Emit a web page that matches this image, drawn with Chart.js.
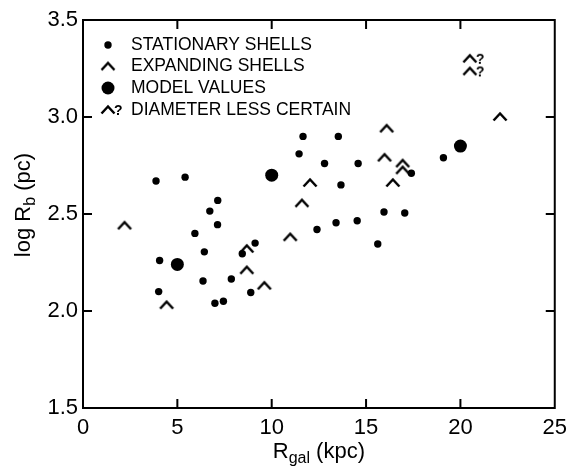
<!DOCTYPE html>
<html><head><meta charset="utf-8">
<script src="https://cdn.jsdelivr.net/npm/chart.js@4/dist/chart.umd.min.js"></script>
<style>html,body{margin:0;padding:0;background:#fff;}</style>
</head><body>
<canvas id="c" width="574" height="466"></canvas>
<script>
// ---- data ----
const stationaryX = [3.87, 5.41, 11.66, 11.45, 12.8, 13.53, 14.58, 13.67, 17.4, 19.1, 7.14, 6.72, 7.13, 5.93, 12.4, 9.12, 13.41, 14.53, 15.95, 17.05, 15.62, 6.43, 8.44, 4.06, 6.36, 7.86, 4.01, 8.89, 6.99, 7.44];
const stationaryY = [2.67, 2.69, 2.90, 2.81, 2.76, 2.90, 2.76, 2.65, 2.71, 2.79, 2.57, 2.515, 2.445, 2.40, 2.42, 2.35, 2.455, 2.465, 2.51, 2.505, 2.345, 2.305, 2.295, 2.26, 2.155, 2.165, 2.10, 2.095, 2.04, 2.05];
const expandingX = [2.2, 12.03, 11.6, 10.98, 8.68, 8.68, 9.61, 4.43, 22.1, 16.09, 15.98, 16.94, 16.94, 16.42];
const expandingY = [2.44, 2.66, 2.555, 2.38, 2.32, 2.21, 2.13, 2.03, 3.00, 2.94, 2.79, 2.76, 2.725, 2.66];
const uncertainX = [20.5, 20.5];
const uncertainY = [3.30, 3.235];
const modelX = [5, 10, 20];
const modelY = [2.24, 2.70, 2.85];
const xTicks = [0, 5, 10, 15, 20, 25];
const yTicks = [1.5, 2.0, 2.5, 3.0, 3.5];
const legendLabels = ['STATIONARY SHELLS', 'EXPANDING SHELLS', 'MODEL VALUES', 'DIAMETER LESS CERTAIN'];

const FONT = '"Liberation Sans", Arial, sans-serif';
Chart.defaults.color = '#000';

function caretCanvas(q) {
  const w = q ? 44 : 18, h = 20;
  const c = document.createElement('canvas'); c.width = w; c.height = h;
  const g = c.getContext('2d');
  g.strokeStyle = '#000'; g.lineWidth = 2.5; g.lineJoin = 'miter';
  const cx = w / 2, cy = h / 2;
  g.beginPath(); g.moveTo(cx - 6.5, cy + 3.5); g.lineTo(cx, cy - 3.5); g.lineTo(cx + 6.5, cy + 3.5); g.stroke();
  if (q) { g.fillStyle = '#000'; g.font = 'bold 14px ' + FONT; g.textBaseline = 'alphabetic'; g.fillText('?', cx + 6, cy + 5); }
  return c;
}
const caret = caretCanvas(false);
const caretQ = caretCanvas(true);

const toPts = (xs, ys) => xs.map((x, i) => ({x: x, y: ys[i]}));

const decor = {
  id: 'decor',
  afterDraw(chart) {
    const ctx = chart.ctx, a = chart.chartArea;
    const xs = chart.scales.x, ys = chart.scales.y;
    ctx.save();
    ctx.strokeStyle = '#000'; ctx.lineWidth = 2;
    ctx.strokeRect(a.left, a.top, a.right - a.left, a.bottom - a.top);
    const tl = 9;
    ctx.beginPath();
    xTicks.slice(1, -1).forEach(v => {
      const px = xs.getPixelForValue(v);
      ctx.moveTo(px, a.bottom); ctx.lineTo(px, a.bottom - tl);
      ctx.moveTo(px, a.top); ctx.lineTo(px, a.top + tl);
    });
    yTicks.slice(1, -1).forEach(v => {
      const py = ys.getPixelForValue(v);
      ctx.moveTo(a.left, py); ctx.lineTo(a.left + tl, py);
      ctx.moveTo(a.right, py); ctx.lineTo(a.right - tl, py);
    });
    ctx.stroke();

    // legend
    const rows = [45, 66.5, 88, 110];
    const mx = 108, tx = 131;
    ctx.fillStyle = '#000';
    ctx.beginPath(); ctx.arc(mx, rows[0], 3.7, 0, Math.PI * 2); ctx.fill();
    ctx.drawImage(caret, mx - caret.width / 2, rows[1] - caret.height / 2);
    ctx.beginPath(); ctx.arc(mx, rows[2], 6.5, 0, Math.PI * 2); ctx.fill();
    ctx.drawImage(caretQ, mx - caretQ.width / 2, rows[3] - caretQ.height / 2);
    ctx.font = '17.5px ' + FONT; ctx.textBaseline = 'middle'; ctx.textAlign = 'left';
    legendLabels.forEach((t, i) => ctx.fillText(t, tx, rows[i]));

    // x title
    const big = '22px ' + FONT, small = '16px ' + FONT;
    ctx.textBaseline = 'alphabetic';
    ctx.font = big; const wR = ctx.measureText('R').width, wK = ctx.measureText(' (kpc)').width;
    ctx.font = small; const wG = ctx.measureText('gal').width;
    let x0 = (a.left + a.right) / 2 - (wR + wG + wK) / 2, by = 458;
    ctx.font = big; ctx.fillText('R', x0, by);
    ctx.font = small; ctx.fillText('gal', x0 + wR, by + 5);
    ctx.font = big; ctx.fillText(' (kpc)', x0 + wR + wG, by);

    // y title
    ctx.translate(30, 205); ctx.rotate(-Math.PI / 2);
    ctx.font = big; const w1 = ctx.measureText('log R').width, w3 = ctx.measureText(' (pc)').width;
    ctx.font = small; const w2 = ctx.measureText('b').width;
    let y0 = -(w1 + w2 + w3) / 2;
    ctx.font = big; ctx.fillText('log R', y0, 0);
    ctx.font = small; ctx.fillText('b', y0 + w1, 5);
    ctx.font = big; ctx.fillText(' (pc)', y0 + w1 + w2, 0);
    ctx.restore();
  }
};

new Chart(document.getElementById('c'), {
  type: 'scatter',
  data: {
    datasets: [
      {label: 'STATIONARY SHELLS', data: toPts(stationaryX, stationaryY), pointStyle: 'circle', pointRadius: 3.7, backgroundColor: '#000', borderWidth: 0},
      {label: 'EXPANDING SHELLS', data: toPts(expandingX, expandingY), pointStyle: caret, pointRadius: 7},
      {label: 'MODEL VALUES', data: toPts(modelX, modelY), pointStyle: 'circle', pointRadius: 6.5, backgroundColor: '#000', borderWidth: 0},
      {label: 'DIAMETER LESS CERTAIN', data: toPts(uncertainX, uncertainY), pointStyle: caretQ, pointRadius: 7}
    ]
  },
  options: {
    responsive: false, animation: false, events: [],
    devicePixelRatio: 1,
    layout: {padding: {top: 20, right: 15, left: 0, bottom: 0}},
    plugins: {legend: {display: false}, tooltip: {enabled: false}},
    scales: {
      x: {
        type: 'linear', min: 0, max: 25,
        afterFit(s) { s.height = 58; },
        afterBuildTicks(s) { s.ticks = xTicks.map(v => ({value: v})); },
        grid: {display: false, drawTicks: false},
        border: {display: false},
        ticks: {padding: 7, font: {family: FONT, size: 22}, color: '#000', maxRotation: 0, callback: v => String(v)}
      },
      y: {
        type: 'linear', min: 1.5, max: 3.5,
        afterFit(s) { s.width = 83; },
        afterBuildTicks(s) { s.ticks = yTicks.map(v => ({value: v})); },
        grid: {display: false, drawTicks: false},
        border: {display: false},
        ticks: {padding: 5, font: {family: FONT, size: 22}, color: '#000', callback: v => v.toFixed(1)}
      }
    }
  },
  plugins: [decor]
});
</script>
</body></html>
